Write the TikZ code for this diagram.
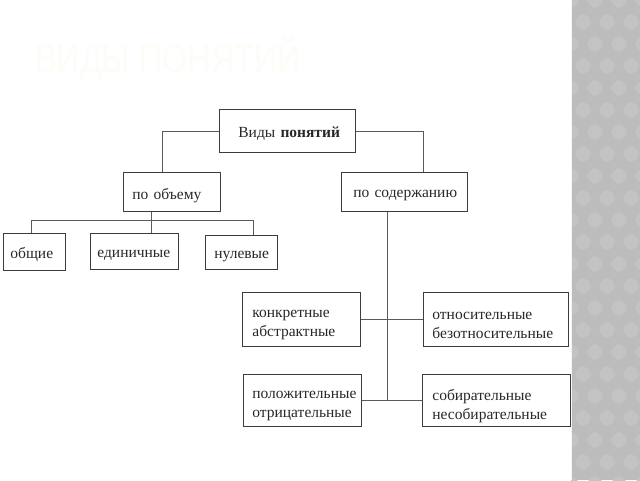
\documentclass[tikz,border=0pt]{standalone}
\usepackage{fontspec}
\setmainfont{Liberation Serif}
\newfontfamily\titlefont{Liberation Sans}
\definecolor{txt}{RGB}{40,40,40}
\definecolor{boxline}{RGB}{60,60,60}
\definecolor{conn}{RGB}{90,90,90}
\definecolor{strip}{RGB}{188,188,188}
\definecolor{diam}{RGB}{195,195,195}
\definecolor{ghost}{RGB}{253,252,246}
\hfuzz=200pt
\hbadness=10000
\newcommand{\dnl}[2]{\raisebox{-#1}[\height][\depth]{\mbox{#2}}}
\begin{document}
\begin{tikzpicture}[x=1pt,y=-1pt,
  cbox/.style={draw=boxline, line width=0.8pt, fill=white, text=txt,
    font=\fontsize{15.5}{19}\selectfont, align=left, inner ysep=0pt, anchor=north west},
  cline/.style={draw=conn, line width=0.6pt}]
\useasboundingbox (0,0) rectangle (640,480);
\fill[white] (0,0) rectangle (640,480);
% side strip
\fill[strip] (571,0) rectangle (640,480);
\begin{scope}
\clip (571,0) rectangle (640,480);
\foreach \i in {0,...,3}{
  \foreach \j in {0,...,22}{
    \pgfmathsetmacro{\cx}{571+\i*24+mod(\j,2)*12}
    \pgfmathsetmacro{\cy}{\j*22}
    \fill[diam, rounded corners=5pt] (\cx-10,\cy) -- (\cx,\cy-10) -- (\cx+10,\cy) -- (\cx,\cy+10) -- cycle;
  }
}
\end{scope}
\draw[white!85!strip, line width=0.8pt] (571.4,0) -- (571.4,480);
% faint title
\node[anchor=west, text=ghost, inner sep=0pt] (title) at (35,59)
  {\titlefont\fontsize{33}{33}\selectfont\scalebox{0.98}[1.2]{ВИДЫ ПОНЯТИЙ}};
% boxes: width W, left padding p -> text width W-2p, inner xsep p
\node[cbox, inner xsep=19pt, text width=98pt, minimum height=43pt] (top) at (219,109) {\dnl{3pt}{Виды \textbf{понятий}}};
\node[cbox, inner xsep=9pt, text width=79pt, minimum height=39pt] (ob) at (123,172) {\dnl{4pt}{по объему}};
\node[cbox, inner xsep=12pt, text width=102pt, minimum height=39pt] (sod) at (341,172) {\dnl{4pt}{по содержанию}};
\node[cbox, inner xsep=7pt, text width=48pt, minimum height=37pt] (obsh) at (3,233) {\dnl{3pt}{общие}};
\node[cbox, inner xsep=7pt, text width=74pt, minimum height=36pt] (edin) at (90,233) {\dnl{4pt}{единичные}};
\node[cbox, inner xsep=9pt, text width=54pt, minimum height=34pt] (nul) at (205,235) {\dnl{4pt}{нулевые}};
\node[cbox, inner xsep=10pt, text width=98pt, minimum height=54pt] (konk) at (242,292) {\dnl{6pt}{конкретные}\\\dnl{6pt}{абстрактные}};
\node[cbox, inner xsep=9pt, text width=127pt, minimum height=54pt] (otn) at (423,292) {\dnl{6pt}{относительные}\\\dnl{6pt}{безотносительные}};
\node[cbox, inner xsep=9pt, text width=100pt, minimum height=52pt] (pol) at (243,374) {\dnl{6pt}{положительные}\\\dnl{6pt}{отрицательные}};
\node[cbox, inner xsep=10pt, text width=128pt, minimum height=52pt] (sob) at (422,374) {\dnl{6pt}{собирательные}\\\dnl{6pt}{несобирательные}};
% connector points
\coordinate (c1) at (162,172);
\coordinate (c2) at (423,172);
\coordinate (j1) at (151,220);
\coordinate (d1) at (31,220);
\coordinate (d3) at (253,220);
\coordinate (s1) at (387,401);
% connectors
\draw[cline] (top.west) -| (c1);
\draw[cline] (top.east) -| (c2);
\draw[cline] (ob.south -| j1) -- (edin.north -| j1);
\draw[cline] (d1) -- (d3);
\draw[cline] (d1) -- (obsh.north -| d1);
\draw[cline] (d3) -- (nul.north -| d3);
\draw[cline] (sod.south -| s1) -- (s1);
\draw[cline] (konk.east) -- (otn.west);
\draw[cline] (pol.east) -- (sob.west);
\end{tikzpicture}
\end{document}
